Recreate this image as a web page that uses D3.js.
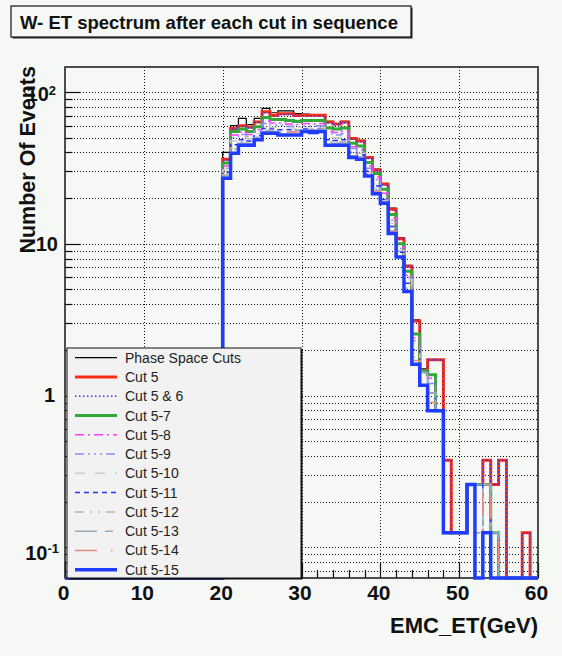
<!DOCTYPE html>
<html><head><meta charset="utf-8">
<script src="https://cdn.jsdelivr.net/npm/d3@7"></script>
<style>
html,body{margin:0;padding:0;background:#f5f8f5;}
svg{display:block;font-family:"Liberation Sans",Arial,Helvetica,sans-serif;}
</style>
</head><body>
<svg id="chart" width="562" height="656"></svg>
<script>
// ---------------- data ----------------
const chartTitle = "W- ET spectrum after each cut in sequence";
const xTitle = "EMC_ET(GeV)";
const yTitle = "Number Of Events";
const xDomain = [0, 60];
const yDomain = [0.06286, 146.1];
const xLabelValues = [0, 10, 20, 30, 40, 50, 60];
const yLabelValues = [0.1, 1, 10, 100];
const yLabelBase = ["10", "1", "10", "10"];
const yLabelExp = ["-1", "", "", "2"];
const binLowEdges = d3.range(20, 60);   // 1 GeV bins, 20..59 (others empty)
const binWidth = 1;

const seriesNames = ["Phase Space Cuts","Cut 5","Cut 5 & 6","Cut 5-7","Cut 5-8","Cut 5-9",
  "Cut 5-10","Cut 5-11","Cut 5-12","Cut 5-13","Cut 5-14","Cut 5-15"];

const phaseSpace = [40, 60, 67, 61, 67, 78, 73, 75, 75, 72, 71.5, 71, 71, 64, 62, 64, 50, 48, 37.5, 31, 25, 17.2, 11, 7.2, 3.15, 1.5, 1.72, 1.72, 0.375, 0.125, 0.125, 0.26, 0.26, 0.375, 0.26, 0.375, 0, 0, 0.125, 0];
const cut5 = [36, 57.5, 60, 58.5, 63.5, 74, 70, 72, 72, 70, 70.3, 70.3, 70.3, 63.5, 61.5, 63.5, 49.4, 47.5, 37, 30.6, 24.7, 16.9, 10.8, 7.1, 3.1, 1.45, 1.72, 1.72, 0.375, 0.125, 0.125, 0.26, 0.26, 0.375, 0.26, 0.375, 0, 0, 0.125, 0];
const cut5and6 = [35.5, 57, 59.5, 58, 63, 73, 69.5, 71, 71, 69.5, 69.5, 69.5, 69.5, 62.5, 61, 63, 49, 47, 36.5, 30.4, 24.5, 16.8, 10.7, 7.1, 3.1, 1.45, 1.72, 1.72, 0.375, 0.125, 0.125, 0.26, 0.26, 0.375, 0.26, 0.375, 0, 0, 0.125, 0];
const cut5to7 = [34, 55, 57, 55, 59, 68, 66, 66, 65, 64, 65, 65, 65, 58, 57, 58, 46, 44, 34.3, 29, 22.9, 15.6, 10, 6.6, 2.55, 1.45, 1.37, 0.795, 0.125, 0.125, 0.125, 0.26, 0.26, 0.26, 0.125, 0, 0, 0, 0, 0];
const cut5to8 = [32.5, 52, 54.5, 52.5, 56.5, 64.5, 62.5, 62.5, 61.5, 61, 62, 61.5, 62, 55, 54, 55, 43.5, 42, 32.5, 27.5, 21.5, 14.8, 9.5, 6.2, 2.4, 1.42, 1.3, 0.795, 0.125, 0.125, 0.125, 0.26, 0.26, 0.26, 0.125, 0, 0, 0, 0, 0];
const cut5to9 = [31.5, 50, 52.5, 51, 55, 62, 60.5, 60.5, 59.5, 59, 60, 59.5, 60, 53, 52, 53, 42.5, 41, 31.5, 26.5, 21, 14.3, 9.3, 6, 2.3, 1.42, 1.2, 0.795, 0.125, 0.125, 0.125, 0.26, 0.26, 0.26, 0.125, 0, 0, 0, 0, 0];
const cut5to10 = [30.5, 47.5, 50.5, 49, 53, 60, 58.5, 58.5, 58, 57, 58, 57.5, 58.5, 50.5, 50, 50.5, 41, 39.5, 30.5, 25, 20.2, 13.6, 9, 5.8, 2.2, 1.42, 1.1, 0.795, 0.125, 0.125, 0.125, 0.26, 0.26, 0.26, 0.125, 0, 0, 0, 0, 0];
const cut5to11 = [29.5, 45, 48.5, 47.5, 51.5, 57.5, 57, 56.5, 56.5, 56, 57, 56, 57.5, 48.5, 48, 48.5, 40, 38.5, 30, 24, 19.6, 13, 8.8, 5.5, 2.0, 1.42, 1.04, 0.795, 0.125, 0.125, 0.125, 0.26, 0.125, 0.26, 0.125, 0, 0, 0, 0, 0];
const cut5to12 = [28.5, 43, 47, 46, 50.5, 56, 56, 55, 55.5, 55.5, 56.5, 55, 57, 47, 46.5, 47, 39, 37.5, 29.5, 23, 19.2, 12.5, 8.6, 5.3, 1.9, 1.42, 1.04, 0.795, 0.125, 0.125, 0.125, 0.26, 0.125, 0.26, 0.125, 0, 0, 0, 0, 0];
const cut5to13 = [28, 42, 46, 45.5, 50, 55, 55, 54, 55, 55, 56, 54.5, 57, 46, 46, 46, 38, 37, 29, 22.5, 19, 12.2, 8.4, 5.1, 1.8, 1.42, 1.04, 0.795, 0.125, 0.125, 0.125, 0.26, 0.125, 0.26, 0.125, 0, 0, 0, 0, 0];
const cut5to14 = [27.5, 40.5, 45, 45, 49, 54, 54, 53, 54, 54.5, 55.5, 53.5, 56.5, 45, 45, 45, 37.5, 36.5, 28.5, 22, 18.8, 12, 8.3, 5, 1.7, 1.3, 0.9, 0.795, 0.125, 0.125, 0.125, 0.26, 0.125, 0.26, 0.125, 0, 0, 0, 0, 0];
const cut5to15 = [27, 39.5, 44.5, 44.5, 48.5, 53.5, 53.5, 52, 52, 52, 55, 54, 55, 44.5, 44.5, 44.5, 37, 36, 28, 21.4, 18.5, 11.7, 8.2, 4.85, 1.61, 1.17, 0.795, 0.795, 0.125, 0.125, 0.125, 0.26, 0, 0.125, 0, 0, 0, 0, 0, 0];

const seriesValues = [phaseSpace, cut5, cut5and6, cut5to7, cut5to8, cut5to9, cut5to10, cut5to11, cut5to12, cut5to13, cut5to14, cut5to15];

// ---------------- styles ----------------
const seriesStyles = [
  {color:"#000000", width:1.2, dash:null},
  {color:"#ff2a12", width:3, dash:null},
  {color:"#2b3bff", width:1.6, dash:"1.5,2.5"},
  {color:"#33a83a", width:3, dash:null},
  {color:"#ff3cff", width:1.5, dash:"9,4,2,4"},
  {color:"#8c8cf5", width:1.5, dash:"9,4,2,4,2,4,2,4"},
  {color:"#cdcdcd", width:1.5, dash:"10,10"},
  {color:"#2233ff", width:1.5, dash:"5,4"},
  {color:"#c2b2a4", width:1.5, dash:"9,6,2,6,2,6"},
  {color:"#9aabb8", width:1.5, dash:"22,8,8,8"},
  {color:"#e98a86", width:1.5, dash:"22,14,1.5,14"},
  {color:"#1f3cff", width:3.5, dash:null}
];

const W = 562, H = 656;
const frame = {left:65, right:538, top:67, bottom:578};
const font = '"Liberation Sans",Arial,Helvetica,sans-serif';

const svg = d3.select("#chart");
svg.append("rect").attr("width", W).attr("height", H).attr("fill", "#f5f8f5");

const x = d3.scaleLinear().domain(xDomain).range([frame.left, frame.right]);
const y = d3.scaleLog().domain(yDomain).range([frame.bottom, frame.top]);

// ---------------- grid ----------------
const grid = svg.append("g").attr("stroke", "#111").attr("stroke-width", 1).attr("stroke-dasharray", "1,2");
grid.selectAll("line.gy").data(y.ticks()).join("line")
  .attr("x1", frame.left).attr("x2", frame.right)
  .attr("y1", d => Math.round(y(d)) + 0.5).attr("y2", d => Math.round(y(d)) + 0.5);
grid.selectAll("line.gx").data(xLabelValues.filter(v => v > xDomain[0] && v < xDomain[1])).join("line")
  .attr("y1", frame.top).attr("y2", frame.bottom)
  .attr("x1", d => Math.round(x(d)) + 0.5).attr("x2", d => Math.round(x(d)) + 0.5);

// ---------------- ticks (inside frame) ----------------
const ticks = svg.append("g").attr("stroke", "#111").attr("stroke-width", 1.2);
y.ticks().forEach(v => {
  const major = yLabelValues.includes(v);
  const yy = Math.round(y(v)) + 0.5;
  ticks.append("line").attr("x1", frame.left).attr("x2", frame.left + (major ? 15 : 7.5))
    .attr("y1", yy).attr("y2", yy);
});
d3.range(xDomain[0], xDomain[1] + 0.001, 2).forEach(v => {
  const major = v % 10 === 0;
  const xx = Math.round(x(v)) + 0.5;
  ticks.append("line").attr("x1", xx).attr("x2", xx)
    .attr("y1", frame.bottom).attr("y2", frame.bottom - (major ? 15 : 8));
});

// ---------------- frame ----------------
svg.append("rect").attr("x", frame.left).attr("y", frame.top)
  .attr("width", frame.right - frame.left).attr("height", frame.bottom - frame.top)
  .attr("fill", "none").attr("stroke", "#222").attr("stroke-width", 1.6);

// ---------------- histograms ----------------
svg.append("clipPath").attr("id", "clipF").append("rect")
  .attr("x", frame.left - 3).attr("y", frame.top).attr("width", frame.right - frame.left + 6)
  .attr("height", frame.bottom - frame.top + 2);

function histPoints(vals) {
  const pts = [];
  const yb = v => v > 0 ? y(Math.max(v, yDomain[0])) : frame.bottom;
  pts.push([x(xDomain[0]), frame.bottom]);
  pts.push([x(binLowEdges[0]), frame.bottom]);
  vals.forEach((v, i) => {
    const lo = binLowEdges[i], hi = lo + binWidth;
    pts.push([x(lo), yb(v)]);
    pts.push([x(hi), yb(v)]);
  });
  pts.push([x(binLowEdges[binLowEdges.length - 1] + binWidth), frame.bottom]);
  pts.push([x(xDomain[1]), frame.bottom]);
  return pts;
}
const line = d3.line();
const hg = svg.append("g").attr("clip-path", "url(#clipF)");
seriesValues.forEach((vals, i) => {
  const st = seriesStyles[i];
  hg.append("path").attr("d", line(histPoints(vals)))
    .attr("fill", "none").attr("stroke", st.color).attr("stroke-width", st.width)
    .attr("stroke-dasharray", st.dash).attr("stroke-linejoin", "miter");
});

// ---------------- axis labels ----------------
const lab = svg.append("g").attr("font-family", font).attr("font-weight", "bold").attr("fill", "#111");
xLabelValues.forEach(v => {
  lab.append("text").attr("x", x(v) - 1.5).attr("y", 600).attr("text-anchor", "middle")
    .attr("font-size", 21).text(v);
});
const yLabelEnd = [59, 55, 58, 56];
const yLabelDy = [12.6, 6.5, 7, 9.5];
yLabelValues.forEach((v, i) => {
  const t = lab.append("text").attr("x", yLabelEnd[i]).attr("y", y(v) + yLabelDy[i])
    .attr("text-anchor", "end").attr("font-size", 20);
  t.append("tspan").text(yLabelBase[i]);
  if (yLabelExp[i]) t.append("tspan").attr("font-size", 13).attr("dy", -6.5).text(yLabelExp[i]);
});

lab.append("text").attr("x", frame.right).attr("y", 633).attr("text-anchor", "end")
  .attr("font-size", 22).text(xTitle);
lab.append("text").attr("transform", "translate(35,66) rotate(-90)").attr("text-anchor", "end")
  .attr("font-size", 21.5).text(yTitle);

// ---------------- title box ----------------
svg.append("rect").attr("x", 12.5).attr("y", 7.5).attr("width", 400).attr("height", 31).attr("fill", "#222");
svg.append("rect").attr("x", 11).attr("y", 6).attr("width", 400).attr("height", 31)
  .attr("fill", "#f5f8f5").attr("stroke", "#222").attr("stroke-width", 1.3);
svg.append("text").attr("x", 20).attr("y", 28.5).attr("font-family", font).attr("font-weight", "bold")
  .attr("font-size", 18.5).attr("fill", "#111").text(chartTitle);

// ---------------- legend ----------------
const leg = {x:67, y:348, w:234, h:230};
svg.append("rect").attr("x", leg.x + 1.5).attr("y", leg.y + 1.5).attr("width", leg.w).attr("height", leg.h).attr("fill", "#111");
svg.append("rect").attr("x", leg.x).attr("y", leg.y).attr("width", leg.w).attr("height", leg.h)
  .attr("fill", "#f2f2f2").attr("stroke", "#111").attr("stroke-width", 1);
const lg = svg.append("g");
const rowStep = (569.7 - 357.7) / (seriesNames.length - 1);
seriesNames.forEach((name, i) => {
  const cy = 357.7 + i * rowStep;
  const st = seriesStyles[i];
  lg.append("line").attr("x1", 75).attr("x2", 117).attr("y1", cy).attr("y2", cy)
    .attr("stroke", st.color).attr("stroke-width", st.width).attr("stroke-dasharray", st.dash);
  lg.append("text").attr("x", 125).attr("y", cy + 5).attr("font-family", font)
    .attr("font-size", 14).attr("fill", "#222").text(name);
});
</script>
</body></html>
